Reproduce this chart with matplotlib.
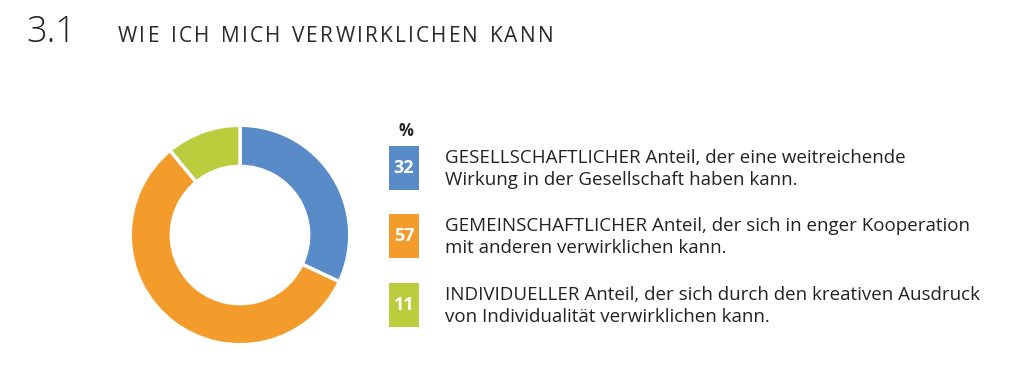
import matplotlib.pyplot as plt
from matplotlib.patches import Rectangle

# data
values = [32, 57, 11]
colors = ["#5a8bc9", "#f39c2b", "#b9cd3d"]
labels = [
    "GESELLSCHAFTLICHER Anteil, der eine weitreichende\nWirkung in der Gesellschaft haben kann.",
    "GEMEINSCHAFTLICHER Anteil, der sich in enger Kooperation\nmit anderen verwirklichen kann.",
    "INDIVIDUELLER Anteil, der sich durch den kreativen Ausdruck\nvon Individualität verwirklichen kann.",
]
chapter = "3.1"
title = "WIE ICH MICH VERWIRKLICHEN KANN"

W, H = 1024, 367
plt.rcParams['font.family'] = ['Open Sans', 'DejaVu Sans']
fig = plt.figure(figsize=(W / 100, H / 100), dpi=100)

# overlay axes in pixel coords (y down)
bg = fig.add_axes([0, 0, 1, 1])
bg.set_xlim(0, W)
bg.set_ylim(H, 0)
bg.axis("off")

bg.text(26, 33, chapter, fontsize=26, color="#222222", va="center", ha="left",
        fontweight="light")

# title with letter spacing, laid out char by char
renderer = fig.canvas.get_renderer()
x = 118
for ch in title:
    t = bg.text(x, 36, ch, fontsize=15, color="#2a2a2a", va="center", ha="left")
    if ch == " ":
        w = 7
    else:
        w = t.get_window_extent(renderer).width
    x += w + 2.2

# donut
cx, cy, r = 240, 235, 112
pax = fig.add_axes([(cx - r) / W, (H - cy - r) / H, 2 * r / W, 2 * r / H])
pax.pie(values, colors=colors, startangle=90, counterclock=False, radius=1,
        wedgeprops=dict(width=0.375, edgecolor="white", linewidth=2.5))
pax.set_xlim(-1.02, 1.02)
pax.set_ylim(-1.02, 1.02)
pax.set_aspect("equal")

# legend
bg.text(406, 131, "%", fontsize=12, fontweight="bold", color="#222222",
        ha="center", va="center")
tops = [146, 214, 283]
for v, c, lab, t in zip(values, colors, labels, tops):
    bg.add_patch(Rectangle((389, t), 30, 44, facecolor=c, edgecolor="none"))
    bg.text(404, t + 22, str(v), fontsize=13, fontweight="bold", color="white",
            ha="center", va="center")
    bg.text(445, t + 23, lab, fontsize=13.5, color="#222222", ha="left",
            va="center", linespacing=1.35)

fig.savefig("out.png", dpi=100)
